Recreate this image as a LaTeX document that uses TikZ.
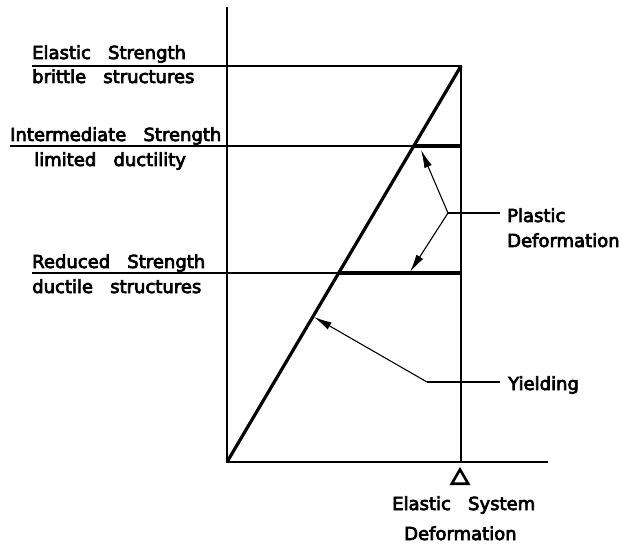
\documentclass[tikz,border=0pt]{standalone}
\usepackage{fontspec}
\setmainfont{DejaVu Sans}[WordSpace=3,FakeBold=4]
\usetikzlibrary{arrows.meta,shapes.geometric}

\begin{document}
\begin{tikzpicture}[x=1bp,y=-1bp,
  txt/.style={anchor=base west,inner sep=0pt,font=\fontsize{18bp}{22bp}\selectfont},
  fine/.style={line width=1.6bp},
  heavy/.style={line width=3.2bp},
  pointer/.style={line width=1.1bp,-{Latex[length=18bp,width=8bp]}}]
\useasboundingbox (0,0) rectangle (621,546);
% axes and strength levels
\coordinate (o) at (227,462);
\coordinate (top) at (227,7);
\coordinate (right) at (548,462);
\coordinate (p) at (461,66);
\coordinate (q) at (461,462);
\coordinate (e1) at (32,66);
\coordinate (i1) at (10,146);
\coordinate (i2) at (413,146);
\coordinate (i3) at (461,146);
\coordinate (r1) at (32,273);
\coordinate (r2) at (338,273);
\coordinate (r3) at (461,273);
% leader points
\coordinate (pj) at (448,213);
\coordinate (pe) at (500,213);
\coordinate (yj) at (427,382);
\coordinate (ye) at (500,382);
\coordinate (ip) at (421,150);
\coordinate (rp) at (410,272);
\coordinate (yp) at (314,317);
%
\node[txt] (es) at (32,59) {Elastic Strength};
\node[txt] (bs) at (32,83) {brittle structures};
\node[txt] (is) at (10,141) {Intermediate Strength};
\node[txt] (ld) at (34,166) {limited ductility};
\node[txt] (rs) at (32,268) {Reduced Strength};
\node[txt] (ds) at (32,293) {ductile structures};
\node[txt] (pl) at (507,222) {Plastic};
\node[txt] (pd) at (507,247) {Deformation};
\node[txt] (yl) at (508,390) {Yielding};
\node[txt] (esd) at (392,510) {Elastic System};
\node[txt] (dd) at (404,540) {Deformation};
\node[draw,regular polygon,regular polygon sides=3,minimum size=19bp,inner sep=0pt,line width=2.6bp] (tri) at (460,479) {};

\draw[fine] (top) -- (o) -- (right);
\draw[fine] (e1) -- (p) -- (q);
\draw[fine] (i1) -- (i2);
\draw[heavy] (i2) -- (i3);
\draw[fine] (r1) -- (r2);
\draw[heavy] (r2) -- (r3);
\draw[heavy] (o) -- (p);
\draw[fine] (pe) -- (pj);
\draw[pointer] (pj) -- (ip);
\draw[pointer] (pj) -- (rp);
\draw[fine] (ye) -- (yj);
\draw[pointer] (yj) -- (yp);
\end{tikzpicture}
\end{document}
